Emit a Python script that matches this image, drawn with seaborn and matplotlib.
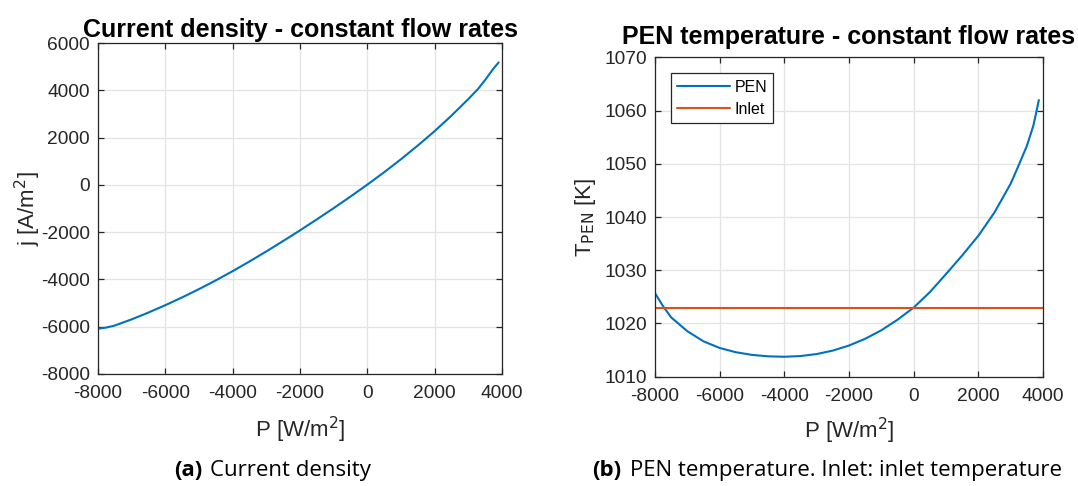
import numpy as np
import pandas as pd
import matplotlib
matplotlib.use("Agg")
import matplotlib.pyplot as plt
import seaborn as sns

# Current density vs. power density (constant flow rates)
p_j = [-8000, -7750, -7500, -7000, -6500, -6000, -5500, -5000, -4500, -4000,
       -3500, -3000, -2500, -2000, -1500, -1000, -500, 0, 500, 1000, 1500,
       2000, 2500, 3000, 3280, 3500, 3730, 3900]
j_vals = [-6085, -6035, -5950, -5690, -5400, -5090, -4760, -4410, -4040,
          -3650, -3240, -2815, -2375, -1925, -1460, -985, -495, 10, 535,
          1085, 1665, 2275, 2930, 3630, 4045, 4440, 4890, 5180]

# PEN temperature vs. power density
p_t = [-8000, -7750, -7500, -7000, -6500, -6000, -5500, -5000, -4500, -4000,
       -3500, -3000, -2500, -2000, -1500, -1000, -500, 0, 500, 1000, 1500,
       2000, 2500, 3000, 3250, 3500, 3700, 3870]
t_pen = [1025.7, 1023.25, 1021.15, 1018.55, 1016.65, 1015.4, 1014.6, 1014.1,
         1013.83, 1013.75, 1013.88, 1014.26, 1014.91, 1015.86, 1017.13,
         1018.73, 1020.71, 1023.0, 1025.9, 1029.3, 1032.8, 1036.5, 1040.9,
         1046.3, 1049.8, 1053.4, 1057.2, 1062.0]
t_inlet = 1023.0

x_ticks = [-8000, -6000, -4000, -2000, 0, 2000, 4000]
j_ticks = [-8000, -6000, -4000, -2000, 0, 2000, 4000, 6000]
t_ticks = [1010, 1020, 1030, 1040, 1050, 1060, 1070]

BLUE = "#0072BD"
ORANGE = "#D95319"
DARK = "#262626"

sns.set_theme(style="whitegrid")
plt.rcParams.update({
    "font.family": ["Liberation Sans", "DejaVu Sans"],
    "axes.unicode_minus": False,
    "axes.edgecolor": DARK,
    "axes.linewidth": 0.9,
    "grid.color": "#E3E3E3",
    "grid.linewidth": 0.9,
    "xtick.color": DARK,
    "ytick.color": DARK,
    "xtick.labelcolor": DARK,
    "ytick.labelcolor": DARK,
    "xtick.direction": "in",
    "ytick.direction": "in",
    "xtick.major.size": 4,
    "ytick.major.size": 4,
    "xtick.major.width": 0.9,
    "ytick.major.width": 0.9,
    "xtick.top": True,
    "ytick.right": True,
    "xtick.bottom": True,
    "ytick.left": True,
})

fig = plt.figure(figsize=(10.78, 4.86), dpi=100)
ax1 = fig.add_axes([0.0909, 0.2305, 0.3748, 0.681])
ax2 = fig.add_axes([0.6076, 0.2249, 0.360, 0.6568])

df_j = pd.DataFrame({"P": p_j, "j": j_vals})
sns.lineplot(data=df_j, x="P", y="j", ax=ax1, color=BLUE, linewidth=1.5)
ax1.set_xlim(-8000, 4000)
ax1.set_ylim(-8000, 6000)
ax1.set_xticks(x_ticks)
ax1.set_yticks(j_ticks)
ax1.set_title("Current density - constant flow rates", fontsize=18,
              fontweight="bold", pad=4, color="black")
ax1.set_xlabel(r"P [W/m$^2$]", fontsize=16, color=DARK, labelpad=9)
ax1.set_ylabel(r"j [A/m$^2$]", fontsize=16, color=DARK, labelpad=-2)

df_t = pd.DataFrame({
    "P": p_t + [p_t[0], 4000],
    "T": t_pen + [t_inlet, t_inlet],
    "series": ["PEN"] * len(p_t) + ["Inlet", "Inlet"],
})
sns.lineplot(data=df_t, x="P", y="T", hue="series", ax=ax2,
             palette={"PEN": BLUE, "Inlet": ORANGE}, linewidth=1.5,
             sort=True)
ax2.set_xlim(-8000, 4000)
ax2.set_ylim(1010, 1070)
ax2.set_xticks(x_ticks)
ax2.set_yticks(t_ticks)
ax2.set_title("PEN temperature - constant flow rates", fontsize=18,
              fontweight="bold", pad=10, color="black")
ax2.set_xlabel(r"P [W/m$^2$]", fontsize=16, color=DARK, labelpad=8)
ax2.set_ylabel(r"T$_{\mathrm{PEN}}$ [K]", fontsize=16, color=DARK, labelpad=4)

leg = ax2.legend(loc="upper left", fontsize=11.5, frameon=True, fancybox=False,
                 framealpha=1, edgecolor=DARK, handlelength=3.3,
                 handletextpad=0.3, borderpad=0.4, labelspacing=0.45,
                 borderaxespad=0, bbox_to_anchor=(0.04, 0.95))
leg.get_frame().set_linewidth(0.9)
leg.set_title(None)
for txt in leg.get_texts():
    txt.set_color("black")

for ax in (ax1, ax2):
    ax.tick_params(labelsize=13.8)
    ax.tick_params(axis="x", pad=8)
    ax.tick_params(axis="y", pad=6)
    ax.grid(True)
    for s in ax.spines.values():
        s.set_visible(True)
        s.set_color(DARK)

cap_font = ["Open Sans", "DejaVu Sans"]
fig.text(0.1874, 0.020, "(a)", ha="right", va="baseline", fontsize=16,
         fontweight="bold", family=cap_font, color="black")
fig.text(0.1949, 0.020, "Current density", ha="left", va="baseline",
         fontsize=16, family=cap_font, color="black")
fig.text(0.5765, 0.020, "(b)", ha="right", va="baseline", fontsize=16,
         fontweight="bold", family=cap_font, color="black")
fig.text(0.5840, 0.020, "PEN temperature. Inlet: inlet temperature",
         ha="left", va="baseline", fontsize=16, family=cap_font, color="black")

fig.savefig("out.png", dpi=100, facecolor="white")
